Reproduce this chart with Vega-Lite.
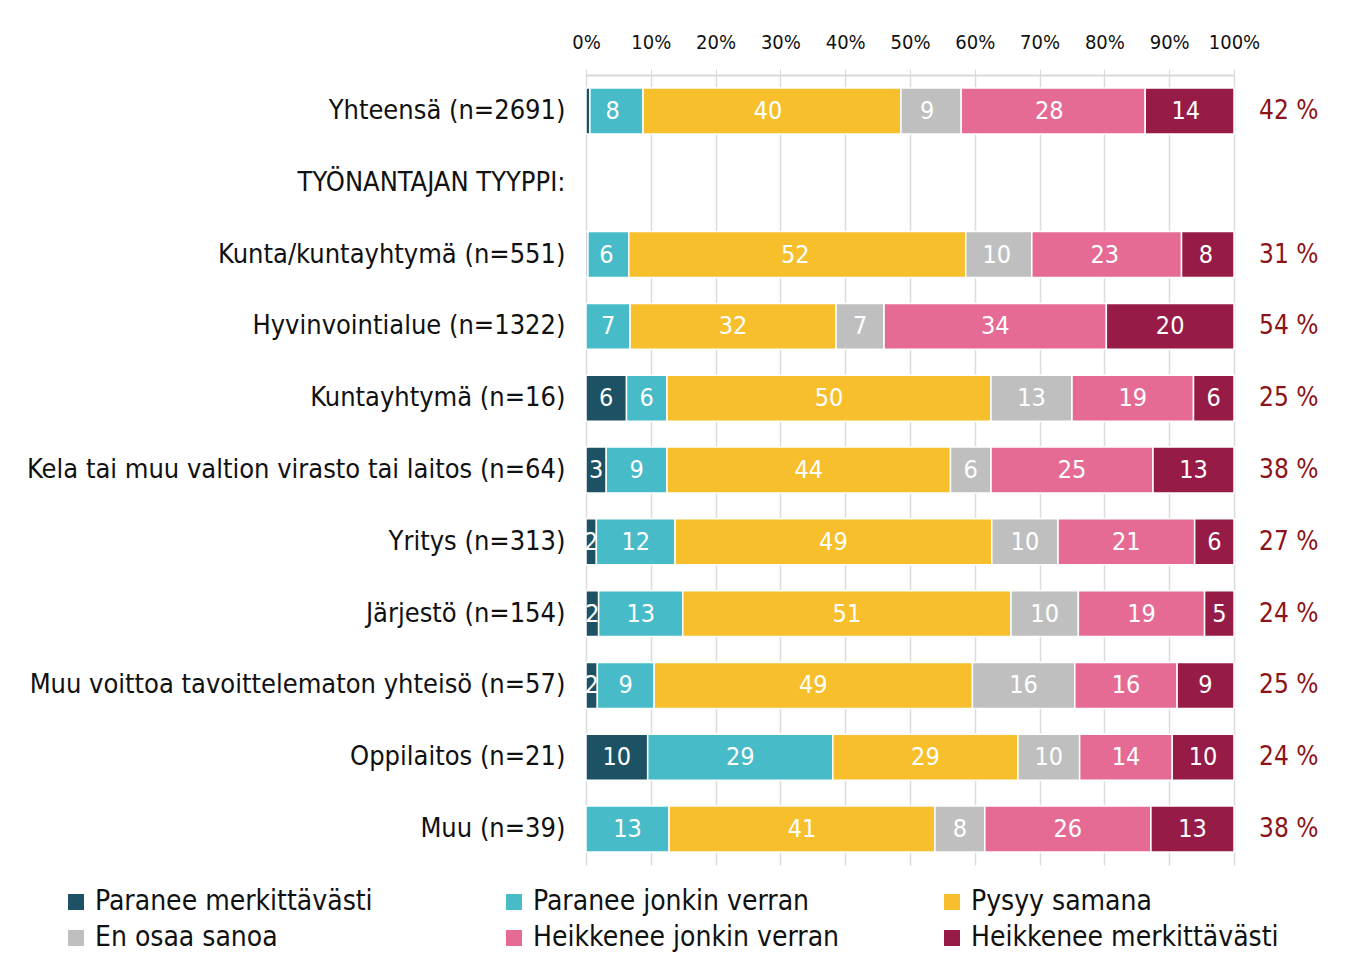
{
  "$schema": "https://vega.github.io/schema/vega-lite/v6.json",
  "width": 648,
  "height": 790,
  "autosize": "none",
  "padding": {"left": 586, "top": 75, "right": 111, "bottom": 90},
  "background": "white",
  "config": {
    "font": "DejaVu Sans Condensed",
    "view": {"stroke": null}
  },
  "datasets": {
    "segments": [
      {"group": "Yhteensä (n=2691)", "cat": "Paranee merkittävästi", "idx": 1, "value": 0.6},
      {"group": "Yhteensä (n=2691)", "cat": "Paranee jonkin verran", "idx": 2, "value": 8.2},
      {"group": "Yhteensä (n=2691)", "cat": "Pysyy samana", "idx": 3, "value": 39.8},
      {"group": "Yhteensä (n=2691)", "cat": "En osaa sanoa", "idx": 4, "value": 9.3},
      {"group": "Yhteensä (n=2691)", "cat": "Heikkenee jonkin verran", "idx": 5, "value": 28.4},
      {"group": "Yhteensä (n=2691)", "cat": "Heikkenee merkittävästi", "idx": 6, "value": 13.7},
      {"group": "Kunta/kuntayhtymä (n=551)", "cat": "Paranee merkittävästi", "idx": 1, "value": 0.3},
      {"group": "Kunta/kuntayhtymä (n=551)", "cat": "Paranee jonkin verran", "idx": 2, "value": 6.3},
      {"group": "Kunta/kuntayhtymä (n=551)", "cat": "Pysyy samana", "idx": 3, "value": 52.0},
      {"group": "Kunta/kuntayhtymä (n=551)", "cat": "En osaa sanoa", "idx": 4, "value": 10.2},
      {"group": "Kunta/kuntayhtymä (n=551)", "cat": "Heikkenee jonkin verran", "idx": 5, "value": 23.1},
      {"group": "Kunta/kuntayhtymä (n=551)", "cat": "Heikkenee merkittävästi", "idx": 6, "value": 8.1},
      {"group": "Hyvinvointialue (n=1322)", "cat": "Paranee jonkin verran", "idx": 2, "value": 6.8},
      {"group": "Hyvinvointialue (n=1322)", "cat": "Pysyy samana", "idx": 3, "value": 31.8},
      {"group": "Hyvinvointialue (n=1322)", "cat": "En osaa sanoa", "idx": 4, "value": 7.4},
      {"group": "Hyvinvointialue (n=1322)", "cat": "Heikkenee jonkin verran", "idx": 5, "value": 34.3},
      {"group": "Hyvinvointialue (n=1322)", "cat": "Heikkenee merkittävästi", "idx": 6, "value": 19.7},
      {"group": "Kuntayhtymä (n=16)", "cat": "Paranee merkittävästi", "idx": 1, "value": 6.25},
      {"group": "Kuntayhtymä (n=16)", "cat": "Paranee jonkin verran", "idx": 2, "value": 6.25},
      {"group": "Kuntayhtymä (n=16)", "cat": "Pysyy samana", "idx": 3, "value": 50},
      {"group": "Kuntayhtymä (n=16)", "cat": "En osaa sanoa", "idx": 4, "value": 12.5},
      {"group": "Kuntayhtymä (n=16)", "cat": "Heikkenee jonkin verran", "idx": 5, "value": 18.75},
      {"group": "Kuntayhtymä (n=16)", "cat": "Heikkenee merkittävästi", "idx": 6, "value": 6.25},
      {"group": "Kela tai muu valtion virasto tai laitos (n=64)", "cat": "Paranee merkittävästi", "idx": 1, "value": 3.125},
      {"group": "Kela tai muu valtion virasto tai laitos (n=64)", "cat": "Paranee jonkin verran", "idx": 2, "value": 9.375},
      {"group": "Kela tai muu valtion virasto tai laitos (n=64)", "cat": "Pysyy samana", "idx": 3, "value": 43.75},
      {"group": "Kela tai muu valtion virasto tai laitos (n=64)", "cat": "En osaa sanoa", "idx": 4, "value": 6.25},
      {"group": "Kela tai muu valtion virasto tai laitos (n=64)", "cat": "Heikkenee jonkin verran", "idx": 5, "value": 25},
      {"group": "Kela tai muu valtion virasto tai laitos (n=64)", "cat": "Heikkenee merkittävästi", "idx": 6, "value": 12.5},
      {"group": "Yritys (n=313)", "cat": "Paranee merkittävästi", "idx": 1, "value": 1.6},
      {"group": "Yritys (n=313)", "cat": "Paranee jonkin verran", "idx": 2, "value": 12.14},
      {"group": "Yritys (n=313)", "cat": "Pysyy samana", "idx": 3, "value": 48.88},
      {"group": "Yritys (n=313)", "cat": "En osaa sanoa", "idx": 4, "value": 10.22},
      {"group": "Yritys (n=313)", "cat": "Heikkenee jonkin verran", "idx": 5, "value": 21.09},
      {"group": "Yritys (n=313)", "cat": "Heikkenee merkittävästi", "idx": 6, "value": 6.07},
      {"group": "Järjestö (n=154)", "cat": "Paranee merkittävästi", "idx": 1, "value": 1.95},
      {"group": "Järjestö (n=154)", "cat": "Paranee jonkin verran", "idx": 2, "value": 12.99},
      {"group": "Järjestö (n=154)", "cat": "Pysyy samana", "idx": 3, "value": 50.65},
      {"group": "Järjestö (n=154)", "cat": "En osaa sanoa", "idx": 4, "value": 10.39},
      {"group": "Järjestö (n=154)", "cat": "Heikkenee jonkin verran", "idx": 5, "value": 19.48},
      {"group": "Järjestö (n=154)", "cat": "Heikkenee merkittävästi", "idx": 6, "value": 4.55},
      {"group": "Muu voittoa tavoittelematon yhteisö (n=57)", "cat": "Paranee merkittävästi", "idx": 1, "value": 1.75},
      {"group": "Muu voittoa tavoittelematon yhteisö (n=57)", "cat": "Paranee jonkin verran", "idx": 2, "value": 8.77},
      {"group": "Muu voittoa tavoittelematon yhteisö (n=57)", "cat": "Pysyy samana", "idx": 3, "value": 49.12},
      {"group": "Muu voittoa tavoittelematon yhteisö (n=57)", "cat": "En osaa sanoa", "idx": 4, "value": 15.79},
      {"group": "Muu voittoa tavoittelematon yhteisö (n=57)", "cat": "Heikkenee jonkin verran", "idx": 5, "value": 15.79},
      {"group": "Muu voittoa tavoittelematon yhteisö (n=57)", "cat": "Heikkenee merkittävästi", "idx": 6, "value": 8.77},
      {"group": "Oppilaitos (n=21)", "cat": "Paranee merkittävästi", "idx": 1, "value": 9.52},
      {"group": "Oppilaitos (n=21)", "cat": "Paranee jonkin verran", "idx": 2, "value": 28.57},
      {"group": "Oppilaitos (n=21)", "cat": "Pysyy samana", "idx": 3, "value": 28.57},
      {"group": "Oppilaitos (n=21)", "cat": "En osaa sanoa", "idx": 4, "value": 9.52},
      {"group": "Oppilaitos (n=21)", "cat": "Heikkenee jonkin verran", "idx": 5, "value": 14.29},
      {"group": "Oppilaitos (n=21)", "cat": "Heikkenee merkittävästi", "idx": 6, "value": 9.52},
      {"group": "Muu (n=39)", "cat": "Paranee jonkin verran", "idx": 2, "value": 12.82},
      {"group": "Muu (n=39)", "cat": "Pysyy samana", "idx": 3, "value": 41.03},
      {"group": "Muu (n=39)", "cat": "En osaa sanoa", "idx": 4, "value": 7.69},
      {"group": "Muu (n=39)", "cat": "Heikkenee jonkin verran", "idx": 5, "value": 25.64},
      {"group": "Muu (n=39)", "cat": "Heikkenee merkittävästi", "idx": 6, "value": 12.82}
    ],
    "totals": [
      {"group": "Yhteensä (n=2691)", "total": "42 %"},
      {"group": "Kunta/kuntayhtymä (n=551)", "total": "31 %"},
      {"group": "Hyvinvointialue (n=1322)", "total": "54 %"},
      {"group": "Kuntayhtymä (n=16)", "total": "25 %"},
      {"group": "Kela tai muu valtion virasto tai laitos (n=64)", "total": "38 %"},
      {"group": "Yritys (n=313)", "total": "27 %"},
      {"group": "Järjestö (n=154)", "total": "24 %"},
      {"group": "Muu voittoa tavoittelematon yhteisö (n=57)", "total": "25 %"},
      {"group": "Oppilaitos (n=21)", "total": "24 %"},
      {"group": "Muu (n=39)", "total": "38 %"}
    ]
  },
  "encoding": {
    "y": {
      "field": "group",
      "type": "nominal",
      "scale": {
        "domain": [
          "Yhteensä (n=2691)",
          "TYÖNANTAJAN TYYPPI:",
          "Kunta/kuntayhtymä (n=551)",
          "Hyvinvointialue (n=1322)",
          "Kuntayhtymä (n=16)",
          "Kela tai muu valtion virasto tai laitos (n=64)",
          "Yritys (n=313)",
          "Järjestö (n=154)",
          "Muu voittoa tavoittelematon yhteisö (n=57)",
          "Oppilaitos (n=21)",
          "Muu (n=39)"
        ],
        "paddingInner": 0.36,
        "paddingOuter": 0.18
      },
      "axis": {
        "title": null,
        "ticks": false,
        "domain": false,
        "grid": false,
        "labelFontSize": 27,
        "labelColor": "#111111",
        "labelPadding": 21,
        "labelLimit": 0
      }
    }
  },
  "layer": [
    {
      "data": {"name": "segments"},
      "mark": {"type": "bar", "stroke": "white", "strokeWidth": 1.5},
      "encoding": {
        "x": {
          "field": "value",
          "type": "quantitative",
          "stack": "zero",
          "scale": {"domain": [0, 100], "nice": false},
          "axis": {
            "orient": "top",
            "title": null,
            "values": [0, 10, 20, 30, 40, 50, 60, 70, 80, 90, 100],
            "labelExpr": "datum.value + '%'",
            "labelOverlap": false,
            "labelFlush": false,
            "labelFontSize": 20,
            "labelColor": "#111111",
            "labelPadding": 17,
            "tickSize": 6,
            "tickColor": "#d9d9d9",
            "domainColor": "#d9d9d9",
            "domainWidth": 2,
            "grid": true,
            "gridColor": "#dcdcdc",
            "gridWidth": 1.5
          }
        },
        "order": {"field": "idx", "type": "quantitative"},
        "color": {
          "field": "cat",
          "type": "nominal",
          "scale": {
            "domain": ["Paranee merkittävästi", "En osaa sanoa", "Paranee jonkin verran", "Heikkenee jonkin verran", "Pysyy samana", "Heikkenee merkittävästi"],
            "range": ["#1c5263", "#bfbfbf", "#47bcc8", "#e66b94", "#f7bf2c", "#971b47"]
          },
          "legend": {
            "title": null,
            "orient": "none",
            "legendX": -524,
            "legendY": 813,
            "columns": 3,
            "gridAlign": "all",
            "columnPadding": 97,
            "rowPadding": 8,
            "symbolType": "square",
            "symbolSize": 256,
            "symbolStrokeWidth": 0,
            "labelFontSize": 28,
            "labelColor": "#111111",
            "labelOffset": 5,
            "labelLimit": 0
          }
        }
      }
    },
    {
      "data": {"name": "segments"},
      "transform": [{"filter": "datum.value >= 1"}],
      "mark": {"type": "text", "color": "white", "fontSize": 25, "baseline": "middle", "align": "center"},
      "encoding": {
        "x": {"field": "value", "type": "quantitative", "stack": "zero", "bandPosition": 0.5},
        "order": {"field": "idx", "type": "quantitative"},
        "detail": {"field": "cat"},
        "text": {"field": "value", "type": "quantitative", "format": ".0f"}
      }
    },
    {
      "data": {"name": "totals"},
      "mark": {"type": "text", "color": "#8c1419", "fontSize": 26, "baseline": "middle", "align": "left", "dx": 25},
      "encoding": {
        "x": {"datum": 100, "type": "quantitative"},
        "text": {"field": "total"}
      }
    }
  ]
}
